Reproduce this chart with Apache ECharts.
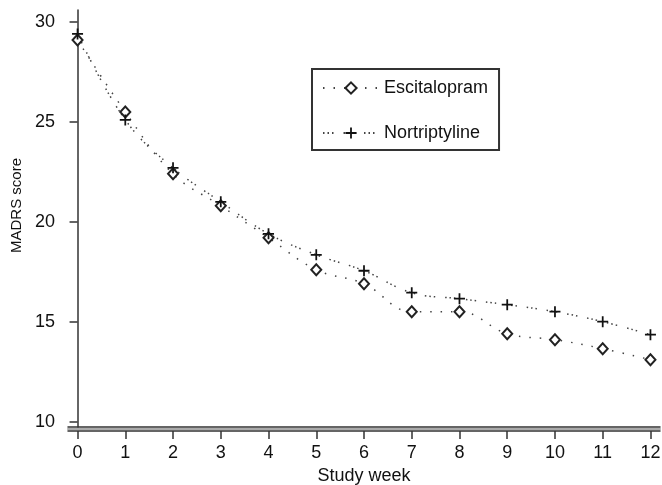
<!DOCTYPE html>
<html>
<head>
<meta charset="utf-8">
<script src="https://cdn.jsdelivr.net/npm/echarts@6/dist/echarts.min.js"></script>
<style>
html,body{margin:0;padding:0;background:#fff;}
#chart{width:662px;height:485px;}
</style>
</head>
<body>
<div id="chart"></div>
<script>
var weeks = [0,1,2,3,4,5,6,7,8,9,10,11,12];
var escitalopram = [29.1,25.5,22.4,20.8,19.2,17.6,16.9,15.5,15.5,14.4,14.1,13.65,13.1];
var nortriptyline = [29.4,25.1,22.7,21.0,19.4,18.35,17.55,16.45,16.15,15.85,15.5,15.0,14.35];
var seriesNames = ['Escitalopram','Nortriptyline'];

var FONT = '"Liberation Sans", Arial, sans-serif';
var plusPath = 'path://M4.2,0h1.6v10h-1.6z M0,4.2h10v1.6h-10z';

function pairs(ys){ return weeks.map(function(w,i){ return [w, ys[i]]; }); }

var chart = echarts.init(document.getElementById('chart'), null, {renderer:'canvas'});
var xCommon = {type:'value', min:-0.2, max:12.2, minInterval:1, maxInterval:1,
  splitLine:{show:false}, axisLabel:{show:false}, axisTick:{show:false}};
chart.setOption({
  animation:false,
  backgroundColor:'#fff',
  grid:{left:68, right:2, top:10, bottom:58, containLabel:false, outerBoundsMode:'none'},
  legend:{
    orient:'vertical', left:312, top:69,
    padding:[10,11,8,10],
    borderColor:'#333', borderWidth:2, backgroundColor:'#fff',
    itemWidth:56, itemHeight:14, itemGap:27,
    textStyle:{fontFamily:FONT, fontSize:18, color:'#111'},
    data:seriesNames
  },
  xAxis:[
    Object.assign({}, xCommon, {position:'bottom', axisLine:{show:true, lineStyle:{color:'#333', width:1.5}}}),
    Object.assign({}, xCommon, {position:'bottom', offset:2, axisLine:{show:true, lineStyle:{color:'#aaa', width:2}}}),
    Object.assign({}, xCommon, {position:'bottom', offset:4,
      name:'Study week', nameLocation:'middle', nameGap:28,
      nameTextStyle:{fontFamily:FONT, fontSize:18, color:'#111'},
      axisLine:{show:true, lineStyle:{color:'#333', width:1.5}},
      axisTick:{show:true, length:8, lineStyle:{color:'#333', width:1.5}},
      axisLabel:{show:true, margin:13, fontFamily:FONT, fontSize:18, color:'#111'}})
  ],
  yAxis:{
    type:'value', min:9.73, max:30.6, minInterval:5, maxInterval:5,
    name:'MADRS score', nameLocation:'middle', nameGap:44,
    nameTextStyle:{fontFamily:FONT, fontSize:15, color:'#111', padding:[0,0,0,26]},
    axisLine:{show:true, lineStyle:{color:'#333', width:1.5}},
    axisTick:{show:true, length:8, lineStyle:{color:'#333', width:1.5}},
    axisLabel:{margin:13, fontFamily:FONT, fontSize:18, color:'#111', showMinLabel:false, showMaxLabel:false},
    splitLine:{show:false}
  },
  series:[
    {name:seriesNames[0], type:'line', xAxisIndex:0, data:pairs(escitalopram), smooth:0.4,
      symbol:'emptyDiamond', symbolSize:[10,11],
      itemStyle:{color:'#222', borderColor:'#222', borderWidth:1.2},
      lineStyle:{color:'#444', width:1.5, type:[1.5,9]}},
    {name:seriesNames[1], type:'line', xAxisIndex:0, data:pairs(nortriptyline), smooth:0.4,
      symbol:plusPath, symbolSize:11,
      itemStyle:{color:'#111'},
      lineStyle:{color:'#444', width:1.5, type:[1.5,3,1.5,3,1.5,10]}}
  ]
});
</script>
</body>
</html>
